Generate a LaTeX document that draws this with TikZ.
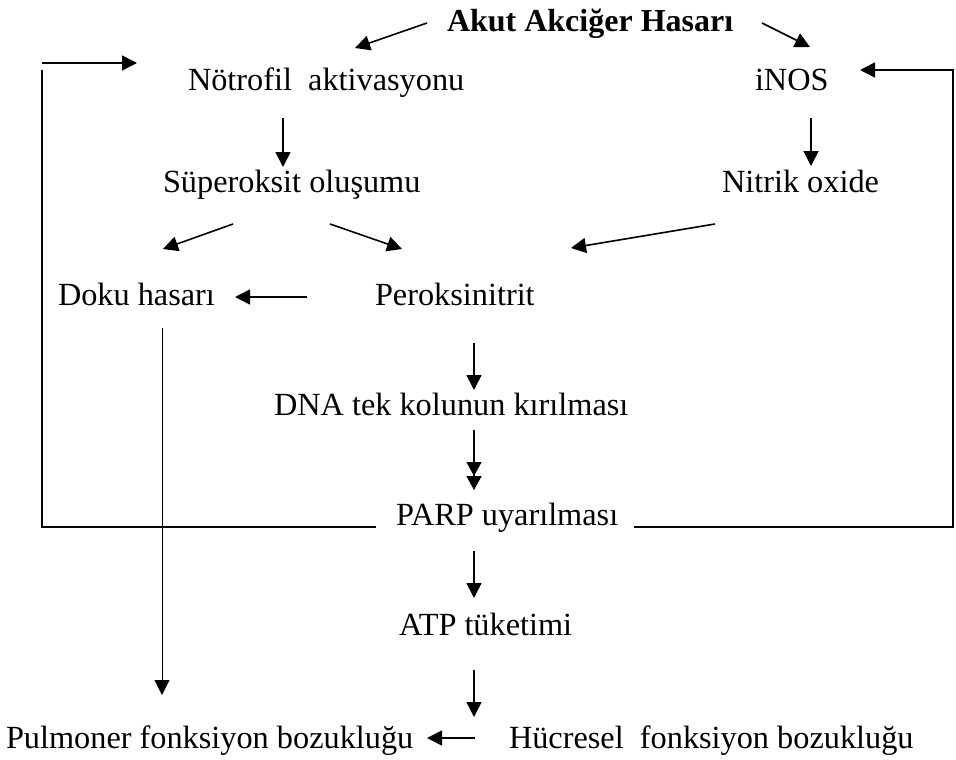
\documentclass[tikz,border=0pt]{standalone}
\usepackage{fontspec}
\setmainfont{Liberation Serif}
\usetikzlibrary{arrows.meta}
\tikzset{
  lbl/.style={anchor=base west,inner sep=0pt,outer sep=0pt,font=\fontsize{32.3}{39}\selectfont},
  ttl/.style={lbl,font=\fontsize{32}{39}\selectfont\bfseries},
  arr/.style={line width=1.6pt,-{Triangle[length=15pt,width=15pt]}},
  darr/.style={line width=1.6pt,-{Triangle[length=14pt,width=15pt]Triangle[length=14pt,width=15pt]}},
  ln/.style={line width=1.6pt},
  thinln/.style={line width=1pt,-{Triangle[length=15pt,width=15pt]}}
}
\begin{document}
\begin{tikzpicture}[x=1pt,y=-1pt]
\useasboundingbox (0,0) rectangle (956,760);
% texts
\node[ttl] (title) at (447,32) {Akut Akciğer Hasarı};
\node[lbl] (notro) at (188,90) {Nötrofil\ \ aktivasyonu};
\node[lbl] (inos) at (755,90) {iNOS};
\node[lbl] (super) at (163,192) {Süperoksit oluşumu};
\node[lbl] (nitrik) at (722,192) {Nitrik oxide};
\node[lbl] (doku) at (58,305) {Doku hasarı};
\node[lbl] (perok) at (375,305) {Peroksinitrit};
\node[lbl] (dna) at (274,415) {DNA tek kolunun kırılması};
\node[lbl] (parp) at (396,525) {PARP uyarılması};
\node[lbl] (atp) at (399,635) {ATP tüketimi};
\node[lbl] (pulm) at (6,748) {Pulmoner fonksiyon bozukluğu};
\node[lbl] (hucre) at (509,748) {Hücresel\ \ fonksiyon bozukluğu};
% connector end points
\coordinate (t1) at (427,23); \coordinate (n1) at (355,48);
\coordinate (t2) at (762,23); \coordinate (i1) at (810,47);
\coordinate (l0) at (42,63); \coordinate (n0) at (137,63);
\coordinate (l1) at (42,70); \coordinate (l2) at (42,527); \coordinate (p1) at (376,527);
\coordinate (p2) at (634,527); \coordinate (r1) at (953,527); \coordinate (r2) at (953,70); \coordinate (i2) at (860,70);
\coordinate (n2) at (283,118); \coordinate (s1) at (283,167);
\coordinate (i3) at (811,118); \coordinate (x1) at (811,166);
\coordinate (s2) at (233,224); \coordinate (d1) at (163,249);
\coordinate (s3) at (330,224); \coordinate (k1) at (402,249);
\coordinate (x2) at (715,224); \coordinate (k2) at (571,248);
\coordinate (k3) at (307,297); \coordinate (d2) at (235,297);
\coordinate (d3) at (162,328); \coordinate (u1) at (162,695);
\coordinate (k4) at (474,343); \coordinate (a1) at (474,390);
\coordinate (a2) at (474,430); \coordinate (p3) at (474,490);
\coordinate (p4) at (474,551); \coordinate (b1) at (474,598);
\coordinate (b2) at (474,670); \coordinate (h1) at (474,717);
\coordinate (h2) at (475,738); \coordinate (u2) at (427,738);
% connectors
\draw[arr] (t1) -- (n1);
\draw[arr] (t2) -- (i1);
\draw[arr] (l0) -- (n0);
\draw[ln] (l1) -- (l2) -- (p1);
\draw[arr] (p2) -- (r1) -- (r2) -- (i2);
\draw[arr] (n2) -- (s1);
\draw[arr] (i3) -- (x1);
\draw[arr] (s2) -- (d1);
\draw[arr] (s3) -- (k1);
\draw[arr] (x2) -- (k2);
\draw[arr] (k3) -- (d2);
\draw[thinln] (d3) -- (u1);
\draw[arr] (k4) -- (a1);
\draw[darr] (a2) -- (p3);
\draw[arr] (p4) -- (b1);
\draw[arr] (b2) -- (h1);
\draw[arr] (h2) -- (u2);
\end{tikzpicture}
\end{document}
